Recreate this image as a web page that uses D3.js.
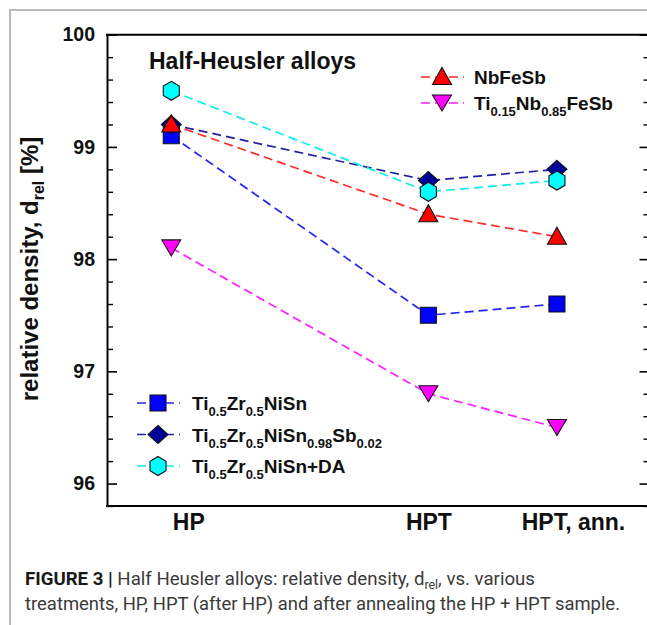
<!DOCTYPE html>
<html>
<head>
<meta charset="utf-8">
<script src="https://cdn.jsdelivr.net/npm/d3@7"></script>
<style>
  html, body { margin: 0; padding: 0; background: #fff; }
  svg { display: block; }
</style>
</head>
<body>
<svg id="chart" width="647" height="625"></svg>
<script>
// Treatments along the x axis and their numeric positions
const categories = ["HP", "HPT", "HPT, ann."];
const categoryX = [1, 3, 4];

// Relative density d_rel [%] per treatment
const nbFeSb      = [99.2, 98.4, 98.2];
const tiNbFeSb    = [98.1, 96.8, 96.5];
const tiZrNiSn    = [99.1, 97.5, 97.6];
const tiZrNiSnSb  = [99.2, 98.7, 98.8];
const tiZrNiSnDA  = [99.5, 98.6, 98.7];

// Axis ticks
const yTicks = [96, 97, 98, 99, 100];
const yMinorTicks = [95.8, 96.2, 96.4, 96.6, 96.8, 97.2, 97.4, 97.6, 97.8,
                     98.2, 98.4, 98.6, 98.8, 99.2, 99.4, 99.6, 99.8];

// Series labels as [text, subscript?] pieces
const nameNbFeSb     = [["NbFeSb", false]];
const nameTiNbFeSb   = [["Ti", false], ["0.15", true], ["Nb", false], ["0.85", true], ["FeSb", false]];
const nameTiZrNiSn   = [["Ti", false], ["0.5", true], ["Zr", false], ["0.5", true], ["NiSn", false]];
const nameTiZrNiSnSb = [["Ti", false], ["0.5", true], ["Zr", false], ["0.5", true], ["NiSn", false], ["0.98", true], ["Sb", false], ["0.02", true]];
const nameTiZrNiSnDA = [["Ti", false], ["0.5", true], ["Zr", false], ["0.5", true], ["NiSn+DA", false]];

// Marker outlines, centred on the data point
const shapes = {
  square:  "M-8,-8L8,-8L8,8L-8,8Z",
  diamond: "M0,-9L10,0L0,9L-10,0Z",
  up:      "M0,-9.5L9.5,7.5L-9.5,7.5Z",
  down:    "M0,8L9.5,-8L-9.5,-8Z",
  hexagon: "M0,-9.5L8,-4.75L8,4.75L0,9.5L-8,4.75L-8,-4.75Z"
};

// Drawing order: later series sit on top
const series = [
  { values: tiZrNiSn,   name: nameTiZrNiSn,   shape: "square",  fill: "#0000ff", line: "#2424f0" },
  { values: tiZrNiSnSb, name: nameTiZrNiSnSb, shape: "diamond", fill: "#00009a", line: "#2020a0" },
  { values: tiZrNiSnDA, name: nameTiZrNiSnDA, shape: "hexagon", fill: "#00ffff", line: "#10ecec" },
  { values: tiNbFeSb,   name: nameTiNbFeSb,   shape: "down",    fill: "#ff00ff", line: "#ff1cff" },
  { values: nbFeSb,     name: nameNbFeSb,     shape: "up",      fill: "#ff0000", line: "#ff2a2a" }
];

const svg = d3.select("#chart");
const font = "'Liberation Sans', Arial, Helvetica, sans-serif";

// Outer figure frame (light grey rule at left and top)
svg.append("path")
  .attr("d", "M10,625L10,10L647,10")
  .attr("fill", "none").attr("stroke", "#b8b8b8").attr("stroke-width", 2);

const plot = { left: 107, right: 649.5, top: 34.7, bottom: 506 };

const x = d3.scaleLinear().domain([0.5, 4.72]).range([plot.left, plot.right]);
const y = d3.scaleLinear().domain([95.8, 100]).range([plot.bottom, plot.top]);

// Frame lines
const frame = svg.append("g").attr("stroke", "#000").attr("stroke-width", 2).attr("fill", "none");
frame.append("line").attr("x1", plot.left - 1).attr("x2", 647).attr("y1", plot.top).attr("y2", plot.top);
frame.append("line").attr("x1", plot.left - 1).attr("x2", 647).attr("y1", plot.bottom).attr("y2", plot.bottom);

// Left axis: major ticks with labels, ticks pointing inward
const yAxisLeft = svg.append("g")
  .attr("transform", `translate(${plot.left},0)`)
  .call(d3.axisLeft(y).tickValues(yTicks).tickFormat(d3.format("d"))
        .tickSizeInner(-10).tickSizeOuter(0).tickPadding(12));
yAxisLeft.select(".domain").attr("stroke-width", 2);
yAxisLeft.selectAll(".tick line").attr("stroke-width", 1.6);
yAxisLeft.selectAll(".tick text")
  .attr("font-family", font).attr("font-weight", "bold").attr("font-size", 19.5)
  .attr("fill", "#111");

svg.append("g")
  .attr("transform", `translate(${plot.left},0)`)
  .call(d3.axisLeft(y).tickValues(yMinorTicks).tickFormat("").tickSizeInner(-6).tickSizeOuter(0))
  .call(g => g.select(".domain").remove())
  .selectAll(".tick line").attr("stroke-width", 1.4);

// Right axis mirrors the tick marks
const yAxisRight = svg.append("g")
  .attr("transform", `translate(${plot.right},0)`)
  .call(d3.axisRight(y).tickValues(yTicks).tickFormat("").tickSizeInner(-10).tickSizeOuter(0));
yAxisRight.select(".domain").attr("stroke-width", 2);
yAxisRight.selectAll(".tick line").attr("stroke-width", 1.6);
svg.append("g")
  .attr("transform", `translate(${plot.right},0)`)
  .call(d3.axisRight(y).tickValues(yMinorTicks).tickFormat("").tickSizeInner(-6).tickSizeOuter(0))
  .call(g => g.select(".domain").remove())
  .selectAll(".tick line").attr("stroke-width", 1.4);

// Bottom axis: category labels only
const labelShift = [17, 0, 16];
const xAxis = svg.append("g")
  .attr("transform", `translate(0,${plot.bottom})`)
  .call(d3.axisBottom(x).tickValues(categoryX)
        .tickFormat((d, i) => categories[i]).tickSize(0).tickPadding(8));
xAxis.select(".domain").remove();
xAxis.selectAll(".tick text")
  .attr("dx", (d, i) => labelShift[i])
  .attr("font-family", font).attr("font-weight", "bold").attr("font-size", 23)
  .attr("fill", "#111");

// Y-axis title
const yTitle = svg.append("text")
  .attr("transform", "translate(38,269) rotate(-90)")
  .attr("text-anchor", "middle")
  .attr("font-family", font).attr("font-weight", "bold").attr("font-size", 24)
  .attr("fill", "#111");
yTitle.append("tspan").text("relative density, d");
yTitle.append("tspan").attr("font-size", 16).attr("dy", 6).text("rel");
yTitle.append("tspan").attr("dy", -6).text(" [%]");

// Panel title
svg.append("text")
  .attr("x", 149).attr("y", 69)
  .attr("font-family", font).attr("font-weight", "bold").attr("font-size", 23)
  .attr("fill", "#111")
  .text("Half-Heusler alloys");

// Series lines and markers
const line = d3.line().x(d => x(d[0])).y(d => y(d[1]));
series.forEach(s => {
  const pts = s.values.map((v, i) => [categoryX[i], v]);
  svg.append("path")
    .attr("d", line(pts))
    .attr("fill", "none").attr("stroke", s.line)
    .attr("stroke-width", 1.7).attr("stroke-dasharray", "9,5");
});
series.forEach(s => {
  const pts = s.values.map((v, i) => [categoryX[i], v]);
  svg.append("g").selectAll("path").data(pts).join("path")
    .attr("transform", d => `translate(${x(d[0])},${y(d[1])})`)
    .attr("d", shapes[s.shape])
    .attr("fill", s.fill).attr("stroke", "#111").attr("stroke-width", 1.1);
});

// Legend entries: sample line, marker, then the formula with subscripts
function legendEntry(s, lx, ly, textX) {
  const g = svg.append("g");
  g.append("line")
    .attr("x1", lx - 21).attr("x2", lx + 22).attr("y1", ly).attr("y2", ly)
    .attr("stroke", s.line).attr("stroke-width", 1.7).attr("stroke-dasharray", "9,5");
  g.append("path")
    .attr("transform", `translate(${lx},${ly})`)
    .attr("d", shapes[s.shape])
    .attr("fill", s.fill).attr("stroke", "#111").attr("stroke-width", 1.1);
  const t = g.append("text")
    .attr("x", textX).attr("y", ly + 7)
    .attr("font-family", font).attr("font-weight", "bold").attr("font-size", 19)
    .attr("fill", "#111");
  let sub = false;
  s.name.forEach(([txt, isSub]) => {
    const dy = isSub && !sub ? 6 : (!isSub && sub ? -6 : 0);
    t.append("tspan").attr("dy", dy).attr("font-size", isSub ? 13 : 19).text(txt);
    sub = isSub;
  });
}

const byShape = k => series.find(s => s.shape === k);
legendEntry(byShape("up"), 442, 77, 474);
legendEntry(byShape("down"), 442, 103, 474);
legendEntry(byShape("square"), 158, 403, 192);
legendEntry(byShape("diamond"), 158, 434.5, 192);
legendEntry(byShape("hexagon"), 158, 466, 192);

// Figure caption
const capFont = "Roboto, 'Liberation Sans', Arial, sans-serif";
const cap1 = svg.append("text")
  .attr("x", 25).attr("y", 585)
  .attr("font-family", capFont).attr("font-size", 18).attr("fill", "#3a3a3a")
  .attr("textLength", 510).attr("lengthAdjust", "spacingAndGlyphs");
cap1.append("tspan").attr("font-weight", "bold").attr("fill", "#1a1a1a").text("FIGURE 3 | ");
cap1.append("tspan").text("Half Heusler alloys: relative density, d");
cap1.append("tspan").attr("font-size", 12).attr("dy", 4).text("rel");
cap1.append("tspan").attr("dy", -4).text(", vs. various");

svg.append("text")
  .attr("x", 25).attr("y", 610)
  .attr("font-family", capFont).attr("font-size", 18).attr("fill", "#3a3a3a")
  .attr("textLength", 595).attr("lengthAdjust", "spacingAndGlyphs")
  .text("treatments, HP, HPT (after HP) and after annealing the HP + HPT sample.");
</script>
</body>
</html>
